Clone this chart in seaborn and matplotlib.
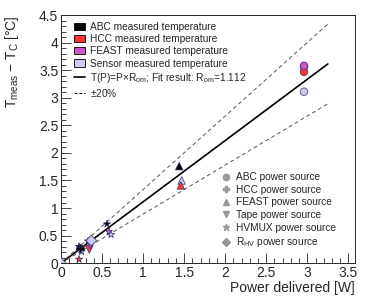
import matplotlib
matplotlib.use("Agg")
import matplotlib.pyplot as plt
from matplotlib.lines import Line2D
from matplotlib.patches import Patch
from matplotlib.ticker import MultipleLocator
import numpy as np
import pandas as pd
import seaborn as sns

#================================
# DATA
#================================
power = [2.96, 2.96, 2.96, 2.96, 1.44, 1.47, 1.46, 0.56, 0.585, 0.61,
         0.33, 0.345, 0.36, 0.37, 0.22, 0.22, 0.25, 0.23, 0.0]
delta_t = [3.57, 3.47, 3.58, 3.11, 1.76, 1.50, 1.41, 0.71, 0.57, 0.52,
           0.40, 0.25, 0.33, 0.41, 0.30, 0.07, 0.21, 0.27, 0.0]
measured = ["ABC", "HCC", "FEAST", "Sensor", "ABC", "Sensor", "HCC", "ABC", "FEAST", "Sensor",
            "ABC", "HCC", "FEAST", "Sensor", "ABC", "HCC", "Sensor", "ABC", "Sensor"]
source = ["ABC", "ABC", "ABC", "ABC", "FEAST", "FEAST", "FEAST", "HVMUX", "HVMUX", "HVMUX",
          "HVMUX", "Tape", "Tape", "RHV", "HVMUX", "HVMUX", "HVMUX", "HCC", "RHV"]

r_om = 1.112
band = 0.20
p_max = 3.25

meas_colors = {"ABC": "#000000", "HCC": "#ff3333", "FEAST": "#cc55cc", "Sensor": "#c8c8f5"}
src_markers = {"ABC": "o", "HCC": "P", "FEAST": "^", "Tape": "v", "HVMUX": "*", "RHV": "D"}
src_labels = {"ABC": "ABC power source", "HCC": "HCC power source", "FEAST": "FEAST power source",
              "Tape": "Tape power source", "HVMUX": "HVMUX power source",
              "RHV": "R$_{\\rm HV}$ power source"}

df = pd.DataFrame({"power": power, "dT": delta_t, "measured": measured, "source": source})

fit = pd.DataFrame({"P": [0.0, p_max]})
fit["T"] = fit["P"] * r_om
fit["hi"] = fit["T"] * (1 + band)
fit["lo"] = fit["T"] * (1 - band)

#================================
# PLOT
#================================
sns.set_style("ticks")
plt.rcParams["font.family"] = ["Liberation Sans", "DejaVu Sans"]
plt.rcParams["mathtext.fontset"] = "custom"
plt.rcParams["mathtext.rm"] = "Liberation Sans"
plt.rcParams["mathtext.it"] = "Liberation Sans"

fig = plt.figure(figsize=(3.74, 2.96), dpi=100)
ax = fig.add_axes([0.163, 0.111, 0.786, 0.838])

sns.lineplot(data=fit, x="P", y="T", color="black", lw=1.2, ax=ax)
sns.lineplot(data=fit, x="P", y="hi", color="#555555", lw=0.7, ls=(0, (4, 3)), ax=ax)
sns.lineplot(data=fit, x="P", y="lo", color="#555555", lw=0.7, ls=(0, (4, 3)), ax=ax)

sns.scatterplot(data=df, x="power", y="dT", hue="measured", palette=meas_colors,
                style="source", markers=src_markers, s=30, edgecolor="#333366",
                linewidth=0.5, legend=False, ax=ax, zorder=3)

ax.set_xlim(0, 3.58)
ax.set_ylim(0, 4.5)
ax.xaxis.set_major_locator(MultipleLocator(0.5))
ax.xaxis.set_minor_locator(MultipleLocator(0.1))
ax.yaxis.set_major_locator(MultipleLocator(0.5))
ax.yaxis.set_minor_locator(MultipleLocator(0.1))
ax.xaxis.set_major_formatter(plt.FuncFormatter(lambda v, p: f"{v:g}"))
ax.yaxis.set_major_formatter(plt.FuncFormatter(lambda v, p: f"{v:g}"))
ax.tick_params(which="both", direction="in", top=False, right=False, labelsize=10, pad=2)
ax.tick_params(which="major", length=7, width=0.6)
ax.tick_params(which="minor", length=3.5, width=0.6)
for s in ax.spines.values():
    s.set_linewidth(0.7)

ax.set_xlabel("Power delivered [W]", fontsize=10, loc="right", labelpad=1)
ax.set_ylabel("T$_{\\rm meas}$ $-$ T$_{\\rm C}$ [°C]", fontsize=10, loc="top", labelpad=13)

# measured-temperature legend
h1 = [Patch(facecolor=meas_colors[k], edgecolor="black", lw=0.6) for k in meas_colors]
h1 += [Line2D([], [], color="black", lw=1.2),
       Line2D([], [], color="black", lw=0.7, ls=(0, (3, 2)))]
l1 = [f"{k} measured temperature" for k in meas_colors]
l1 += ["T(P)=P$\\times$R$_{\\rm om}$; Fit result: R$_{\\rm om}$=1.112", "$\\pm$20%"]
leg1 = ax.legend(h1, l1, loc="upper left", bbox_to_anchor=(0.025, 0.995), frameon=False,
                 fontsize=7.3, handlelength=1.0, handleheight=0.7, handletextpad=0.5,
                 labelspacing=0.2, borderaxespad=0.2)
ax.add_artist(leg1)

# power-source legend
h2 = [Line2D([], [], ls="", marker=src_markers[k], color="#999999", markersize=4.5)
      for k in src_markers]
l2 = [src_labels[k] for k in src_markers]
ax.legend(h2, l2, loc="lower right", bbox_to_anchor=(0.965, 0.02), frameon=False,
          fontsize=7.3, handlelength=0.8, handletextpad=0.5, labelspacing=0.25)

plt.savefig("out.png", dpi=100)
